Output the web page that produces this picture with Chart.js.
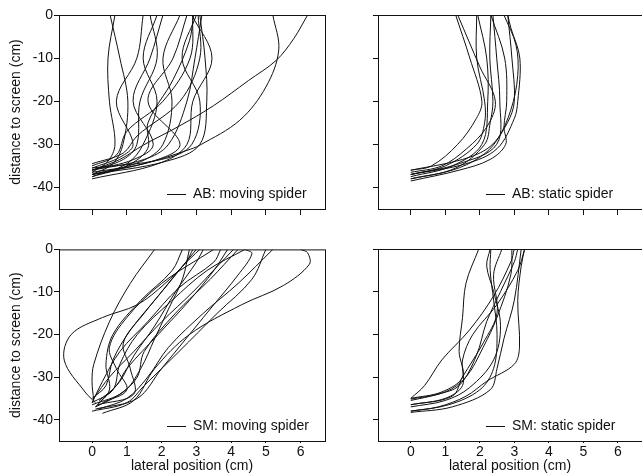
<!DOCTYPE html>
<html>
<head>
<meta charset="utf-8">
<script src="https://cdn.jsdelivr.net/npm/chart.js@4.4.1/dist/chart.umd.min.js"></script>
<style>
  html, body { margin: 0; padding: 0; background: #fff; }
  #wrap { position: relative; width: 642px; height: 475px; overflow: hidden; }
  #wrap canvas { position: absolute; }
</style>
</head>
<body>
<div id="wrap">
  <canvas id="abMoving" width="330" height="240" style="left:0;top:0"></canvas>
  <canvas id="abStatic" width="312" height="240" style="left:330px;top:0"></canvas>
  <canvas id="smMoving" width="330" height="235" style="left:0;top:240px"></canvas>
  <canvas id="smStatic" width="312" height="235" style="left:330px;top:240px"></canvas>
</div>
<script>
// ---- data: each track is a list of [lateral position, distance to screen] in cm ----
const xTickValues = [0, 1, 2, 3, 4, 5, 6];
const yTickValues = [-40, -30, -20, -10, 0];
const panelLabels = ['AB: moving spider', 'AB: static spider', 'SM: moving spider', 'SM: static spider'];

const abMovingTracks = [
  [[0,-36.5],[0.45,-34],[0.66,-30],[0.5,-20],[0.46,-10],[0.66,0]],
  [[0,-37],[0.6,-34.5],[0.89,-30],[1.03,-20],[0.8,-10],[0.52,0]],
  [[0,-35.5],[0.8,-33],[1.18,-30],[0.7,-20],[1.29,-10],[1.47,0]],
  [[0,-36],[0.9,-33.5],[1.29,-30],[1.38,-20],[1.87,-10],[1.67,0]],
  [[0,-37.5],[1.0,-34.5],[1.47,-30],[1.87,-20],[1.47,-10],[1.87,0]],
  [[0,-36],[1.2,-33.5],[1.76,-30],[1.18,-20],[1.67,-10],[2.04,0]],
  [[0,-37],[1.4,-34],[2.04,-30],[2.3,-20],[2.04,-10],[2.53,0]],
  [[0,-36.5],[1.7,-34],[2.53,-30],[1.61,-20],[2.33,-10],[2.73,0]],
  [[0,-38],[1.9,-34.5],[2.73,-30],[2.9,-20],[3.45,-10],[2.87,0]],
  [[0,-35.5],[2.0,-33.5],[2.87,-30],[3.1,-20],[2.59,-10],[3.0,0]],
  [[0,-37],[2.1,-34],[3.1,-30],[3.3,-20],[3.25,-10],[3.1,0]],
  [[0,-36],[1.5,-33.5],[2.2,-30],[2.73,-20],[2.96,-10],[3.16,0]],
  [[0,-37],[1.5,-34.5],[2.73,-31.4],[3.1,-30.2],[4.25,-24.4],[5.0,-16.7],[5.37,-8.1],[5.2,0]],
  [[0,-36],[0.8,-33.5],[1.47,-30.2],[2.5,-25.8],[3.5,-21],[4.5,-15.2],[5.3,-10.5],[5.8,-5.5],[6.2,0]],
  [[0,-35],[0.7,-32.5],[1.0,-27],[2.04,-20],[2.82,-10],[2.9,0]],
  [[0,-34.5],[0.9,-32],[1.3,-28],[2.53,-20],[3.1,-10],[3.05,0]],
  [[0,-37.5],[1.0,-35],[1.6,-31],[1.61,-25],[2.33,-15],[2.8,-6],[2.92,0]]
];

const abStaticTracks = [
  [[0,-36],[0.6,-35],[1.36,-30],[1.9,-24],[2.06,-20],[1.71,-10],[1.30,0]],
  [[0,-36.5],[0.9,-35],[1.62,-31],[2.2,-26],[2.45,-20],[2.0,-12],[1.36,0]],
  [[0,-37],[1.0,-35],[1.91,-30],[2.14,-25],[2.14,-20],[1.91,-10],[1.91,0]],
  [[0,-37.5],[1.2,-35],[2.06,-30],[2.23,-20],[2.2,-10],[1.94,0]],
  [[0,-38],[1.3,-35.5],[2.14,-30],[2.3,-25],[2.38,-20],[2.29,-10],[2.32,0]],
  [[0,-37],[1.4,-34.5],[2.49,-30],[2.58,-20],[2.49,-10],[2.38,0]],
  [[0,-38.5],[1.4,-36],[2.3,-33.5],[2.75,-30],[2.7,-26],[2.78,-20],[2.72,-10],[2.32,0]],
  [[0,-36],[1.5,-33.5],[2.3,-30.5],[2.8,-25],[3.0,-20],[2.93,-10],[2.81,0]],
  [[0,-37],[1.6,-34.5],[2.5,-31],[3.0,-24],[3.1,-20],[3.16,-10],[2.9,-3],[2.81,0]],
  [[0,-38],[1.2,-36],[2.0,-33],[2.5,-29],[2.9,-22],[3.1,-14],[3.05,-7],[2.7,0]]
];

const smMovingTracks = [
  [[0.1,-36],[-0.2,-33.5],[-0.8,-26],[-0.6,-20],[0.3,-16],[1.3,-13],[2.1,-8],[2.7,-3],[2.9,0]],
  [[0.05,-35.5],[0,-31],[0.05,-27],[0.5,-17],[1.1,-8],[1.8,0]],
  [[0.2,-37.5],[1.0,-35],[1.6,-30],[2.2,-23],[3.2,-15],[4.2,-8],[5.2,0]],
  [[0.3,-38.5],[1.2,-35.5],[1.8,-28],[2.8,-20],[4.3,-13],[5.5,-8.5],[6.25,-3.5],[6.2,-0.8],[6.0,0]],
  [[0,-36],[0.6,-33],[0.8,-27],[1.3,-20],[2.3,-12],[3.3,-5],[4.4,0]],
  [[0.1,-37],[0.8,-34],[1.3,-30],[1.5,-24],[2.4,-15],[3.4,-7],[4.2,0]],
  [[0,-35],[0.4,-32],[0.6,-26],[1.1,-19],[1.9,-11],[2.6,-4],[3.1,0]],
  [[0.15,-36.5],[1.2,-34],[1.1,-28],[0.9,-22],[1.5,-15],[2.2,-8],[3.0,0]],
  [[0,-36],[0.3,-31],[0.8,-24],[1.6,-17],[2.5,-9],[3.5,-3],[3.7,0]],
  [[0.2,-35.5],[0.7,-32],[1.0,-28],[1.9,-20],[2.8,-12],[3.5,-5],[3.9,0]],
  [[0.1,-37],[0.5,-33],[0.4,-27],[0.6,-20],[1.4,-12],[2.3,-5],[2.6,0]],
  [[0,-36.5],[0.9,-33.5],[1.4,-28],[1.8,-21],[2.2,-14],[2.6,-7],[2.8,0]],
  [[0.3,-36],[1.0,-33],[0.7,-28],[0.5,-23],[1.0,-16],[2.0,-8],[3.5,0]],
  [[0.1,-37.5],[1.3,-35],[2.0,-28],[2.6,-22],[3.4,-14],[4.2,-6],[4.6,-1],[4.4,0]],
  [[0,-38],[1.0,-36],[1.5,-32],[2.5,-24],[3.6,-15],[4.6,-7],[5.0,0]],
  [[0.2,-36],[0.8,-31],[1.2,-25],[1.8,-18],[2.4,-10],[3.0,-3],[3.2,0]],
  [[0.05,-35],[0.5,-30],[1.2,-24],[2.0,-17],[2.9,-10],[3.6,-4],[4.07,0]]
];

const smStaticTracks = [
  [[0,-38],[0.8,-37],[1.6,-34.5],[2.2,-31],[3.0,-27],[3.15,-23],[3.1,-12],[3.2,-4],[3.3,0]],
  [[0,-35],[0.9,-33.5],[1.5,-30],[1.4,-24],[1.5,-16],[1.6,-8],[1.97,0]],
  [[0,-35],[0.4,-32],[0.9,-26],[1.7,-19],[2.4,-11],[2.9,-3],[3.0,0]],
  [[0,-36.5],[1.0,-35],[1.5,-32],[1.5,-26],[1.8,-20],[2.5,-13],[3.1,-5],[3.3,0]],
  [[0,-35.2],[1.0,-33.5],[1.6,-30],[2.1,-23],[2.5,-16],[2.9,-6],[2.93,0]],
  [[0,-38],[1.1,-36.5],[2.0,-33],[2.4,-28],[2.5,-20],[2.4,-12],[2.3,-5],[2.32,0]],
  [[0,-36.5],[1.2,-34.5],[1.5,-30],[2.1,-22],[2.5,-15],[2.4,-6],[2.64,0]],
  [[0,-35.5],[0.8,-34],[1.4,-32],[1.9,-25],[2.2,-17],[2.6,-10],[3.0,-3],[3.1,0]],
  [[0,-37],[1.0,-35.5],[1.7,-32.5],[2.4,-26],[2.6,-18],[2.4,-10],[2.2,-4],[2.3,0]],
  [[0,-38.3],[1.2,-37],[2.3,-33],[2.5,-28],[2.7,-21],[3.0,-12],[3.2,0]]
];

// ---- drawing ----
const ink = '#111';
const font = { family: '"Liberation Sans", Arial, sans-serif', size: 14 };

// box round the plot area
const framePlugin = {
  id: 'frame',
  beforeDatasetsDraw(chart) {
    const { ctx, chartArea: a } = chart;
    ctx.save();
    ctx.strokeStyle = ink;
    ctx.lineWidth = 1;
    ctx.strokeRect(a.left + 0.5, a.top + 0.5, a.width, a.height);
    ctx.restore();
  }
};

// short line + text key inside the plot, lower right
const panelKeyPlugin = {
  id: 'panelKey',
  afterDraw(chart, args, opts) {
    const { ctx, chartArea: a } = chart;
    const y = a.bottom - 15;
    ctx.save();
    ctx.strokeStyle = ink;
    ctx.lineWidth = 1;
    ctx.beginPath();
    ctx.moveTo(a.left + 108, y + 0.5);
    ctx.lineTo(a.left + 127, y + 0.5);
    ctx.stroke();
    ctx.fillStyle = ink;
    ctx.font = `${font.size}px ${font.family}`;
    ctx.textBaseline = 'middle';
    ctx.fillText(opts.text, a.left + 134, y);
    ctx.restore();
  }
};

function makePanel(id, tracks, label, showX, showY, pad, yWidth, xHeight) {
  const datasets = tracks.map((track, i) => ({
    label: label + ' ' + (i + 1),
    data: track.map(p => ({ x: p[0], y: p[1] })),
    showLine: true,
    borderColor: ink,
    borderWidth: 1,
    pointRadius: 0,
    tension: 0.35,
    fill: false
  }));

  return new Chart(document.getElementById(id), {
    type: 'scatter',
    data: { datasets: datasets },
    options: {
      responsive: false,
      animation: false,
      devicePixelRatio: 1,
      layout: { padding: pad },
      plugins: {
        legend: { display: false },
        tooltip: { enabled: false },
        panelKey: { text: label }
      },
      scales: {
        x: {
          type: 'linear',
          min: -0.95,
          max: 6.7,
          afterBuildTicks: s => { s.ticks = xTickValues.map(v => ({ value: v })); },
          afterFit: s => { s.height = xHeight; },
          grid: { drawOnChartArea: false, drawTicks: true, tickLength: showX ? 2 : 6, color: ink },
          border: { display: true, color: ink },
          ticks: { display: showX, color: ink, font: font, padding: 1, maxRotation: 0 },
          title: { display: showX, text: 'lateral position (cm)', color: ink, font: font, padding: { top: 0, bottom: 0 } }
        },
        y: {
          type: 'linear',
          min: -45,
          max: 0,
          afterBuildTicks: s => { s.ticks = yTickValues.map(v => ({ value: v })); },
          afterFit: s => { s.width = yWidth; },
          grid: { drawOnChartArea: false, drawTicks: true, tickLength: 5, color: ink },
          border: { display: true, color: ink },
          ticks: { display: showY, color: ink, font: font, padding: 1 },
          title: { display: showY, text: 'distance to screen (cm)', color: ink, font: font, padding: { top: 8, bottom: 0 } }
        }
      }
    },
    plugins: [framePlugin, panelKeyPlugin]
  });
}

makePanel('abMoving', abMovingTracks, panelLabels[0], false, true, { top: 15, right: 5 }, 59, 31);
makePanel('abStatic', abStaticTracks, panelLabels[1], false, false, { top: 15, right: 0 }, 48, 31);
makePanel('smMoving', smMovingTracks, panelLabels[2], true, true, { top: 9, right: 5 }, 59, 34);
makePanel('smStatic', smStaticTracks, panelLabels[3], true, false, { top: 9, right: 0 }, 48, 34);
</script>
</body>
</html>
